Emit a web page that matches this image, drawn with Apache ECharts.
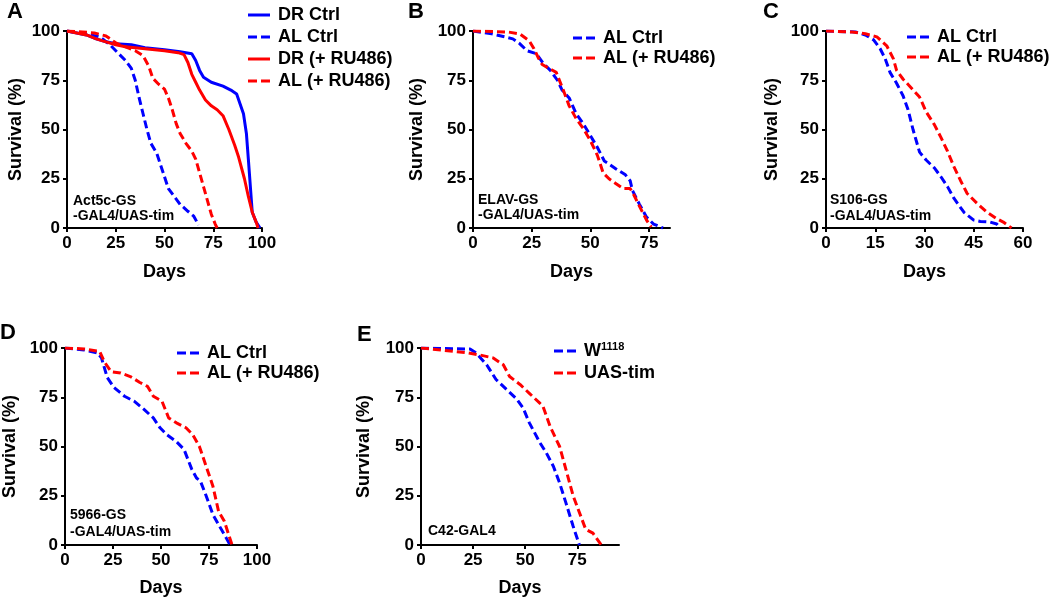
<!DOCTYPE html>
<html>
<head>
<meta charset="utf-8">
<script src="https://cdn.jsdelivr.net/npm/echarts@6/dist/echarts.min.js"></script>
<style>
  html, body { margin: 0; padding: 0; background: #fff; }
  #chart { width: 1050px; height: 599px; }
</style>
</head>
<body>
<div id="chart"></div>
<script>
// survival curves, [day, survival %]
var aDrCtrl = [[0,100],[5,99],[10,98],[15,96],[20,94.5],[25,93.5],[33,93],[40,91.5],[50,90.5],[58,89.5],[64,88.5],[66,85],[68,80],[70,76.5],[74,74],[80,72],[84,70],[87,68],[90.5,58],[92,48],[93,35],[95,8],[97,3],[99,0]];
var aAlCtrl = [[0,100],[10,98.5],[17,97],[22,93],[26,89],[30,85],[33,81],[35,75],[37,66],[39,58],[41,50],[43,43],[46,38],[48,32],[50,26],[52,20],[55,16],[58,12],[62,8.5],[65,6],[67.5,1.5]];
var aDrRu = [[0,100],[10,98],[15,96],[20,94.5],[25,93],[30,92],[40,91],[50,90],[57,89],[60,88],[62,84],[64,78],[66,74],[68,70],[71,65],[74,62],[77,60],[80,57],[83,50],[86,42],[88,36],[91,25],[93,16],[95,8],[97,3],[98,0]];
var aAlRu = [[0,100],[8,99.5],[14,99],[20,97.5],[25,94],[30,92],[35,90],[39,87.5],[42,82],[44,76],[47,73],[50,70.5],[52,66],[54,60],[56,53],[58,48],[61,43],[64,39],[66,35],[68,28],[70,21],[72,14],[74,7],[76,2],[77,0]];

var bAlCtrl = [[0,100],[8,98.6],[17,96],[20,93.5],[23,90],[27,88.5],[30,83.5],[33,80],[36,75],[38,70],[41,66],[44,58],[47,53],[50,47],[53,41],[56,34],[58,32.5],[61,30],[65,27],[67,24],[68,19],[71,12],[74,5.5],[77,2],[80,0.5],[81,0]];
var bAlRu = [[0,100],[15,99.5],[20,98.5],[24,95],[26,91],[28,86],[29.5,83],[32.5,81],[35.5,79],[38.5,70],[41,62],[44,55.5],[47,50.5],[50,44.5],[53,37],[55.5,28],[58,25],[61,22.5],[64,20],[67,20],[68.5,17],[71,11],[74,4],[76,0.5]];

var cAlCtrl = [[0,100],[9,99.5],[12,98],[14.5,95.5],[16.5,91],[18,86],[19.5,79],[21.5,73.5],[23.5,67],[25,60],[26.5,50],[28.5,38.5],[30.5,34.5],[33,30.5],[35,26],[37,21],[39,15],[42,8],[45,4],[47,3.3],[50,3],[52,2],[53,0]];
var cAlRu = [[0,100],[8,99.5],[12,98.6],[15.5,97],[18.5,92.5],[20.5,86],[21.5,80],[23.5,75.5],[25.5,72],[28.5,66.5],[30.5,59],[33,52.5],[35,46],[37,39],[39,31],[41,24],[43,17.5],[46,12.5],[49,8],[52,4.7],[54,3],[56.5,0]];

var dAlCtrl = [[0,100],[10,99],[17,97.5],[19,95],[22,85],[25.5,80],[31,75.5],[36,73],[41,69],[46,64.5],[49.5,59.5],[53,56],[58,52.5],[62,48.5],[66,38.5],[68.5,34],[70.5,32.5],[73.5,25],[77,15.5],[80.5,9.5],[84,3.5],[86,0]];
var dAlRu = [[0,100],[10,99.5],[18,98.3],[20.5,93],[24,88],[29,87.3],[34,85.5],[39,82.5],[43,80.5],[46,75.5],[50.5,73],[54,64.5],[58,62],[63,59.5],[66.5,56],[70,50],[73.5,40],[77,30],[80,17],[83,12],[85,6],[87,0]];

var eW1118 = [[0,100],[23.5,99.5],[26.5,97.5],[31.5,91.5],[36,84],[41,79],[46,74],[49,69.5],[52,62],[57,52],[60,47],[63.5,40],[66.5,31.5],[69.5,21.5],[73,9.5],[76,0]];
var eUasTim = [[0,100],[22.5,97.5],[28,96.5],[34.5,95],[39.5,91.5],[42.5,85.5],[47.5,81.5],[52,77],[57,72],[58.5,70.5],[62,60],[66.5,50],[69.5,38.5],[73,25],[76,16.5],[79,8],[82.5,6],[86.5,0]];

var yTicks = [0, 25, 50, 75, 100];
var xTicks100 = [0, 25, 50, 75, 100];
var xTicks75 = [0, 25, 50, 75];
var xTicks60 = [0, 15, 30, 45, 60];

var FONT = '"Liberation Sans", Arial, sans-serif';
var BLUE = '#0000ff';
var RED = '#ff0000';
// legend glyphs: a solid bar and two dashes
var SOLID = 'path://M0,0h22v3h-22z';
var DASH = 'path://M0,0h9v3h-9z M13,0h9v3h-9z';

var chart = echarts.init(document.getElementById('chart'));

function xAxis(idx, max, ticks, gap) {
  return {
    gridIndex: idx, type: 'value', min: 0, max: max,
    name: 'Days', nameLocation: 'middle', nameGap: gap,
    nameTextStyle: { fontSize: 18, fontWeight: 'bold', fontFamily: FONT, color: '#000' },
    axisLine: { show: true, lineStyle: { color: '#000', width: 2 } },
    axisTick: { show: true, length: 4, customValues: ticks, lineStyle: { color: '#000', width: 2 } },
    axisLabel: { customValues: ticks, margin: 7, fontSize: 17, fontWeight: 'bold', fontFamily: FONT, color: '#000' },
    splitLine: { show: false }
  };
}
function yAxis(idx, gap) {
  return {
    gridIndex: idx, type: 'value', min: 0, max: 100,
    name: 'Survival (%)', nameLocation: 'middle', nameGap: gap,
    nameTextStyle: { fontSize: 18, fontWeight: 'bold', fontFamily: FONT, color: '#000' },
    axisLine: { show: true, lineStyle: { color: '#000', width: 2 } },
    axisTick: { show: true, length: 4, customValues: yTicks, lineStyle: { color: '#000', width: 2 } },
    axisLabel: { customValues: yTicks, margin: 7, fontSize: 17, fontWeight: 'bold', fontFamily: FONT, color: '#000' },
    splitLine: { show: false }
  };
}
function line(name, idx, data, color, dashed) {
  return {
    name: name, type: 'line', xAxisIndex: idx, yAxisIndex: idx,
    data: data, symbol: 'none', showSymbol: false, animation: false,
    lineStyle: { color: color, width: 3, type: dashed ? [8, 4] : 'solid' },
    itemStyle: { color: color }
  };
}
function legend(left, top, items, gap) {
  return {
    orient: 'vertical', left: left, top: top, itemWidth: 22, itemHeight: 14, itemGap: gap,
    selectedMode: false,
    data: items.map(function (it) { return { name: it[0], icon: it[1] ? DASH : SOLID }; }),
    itemStyle: { borderWidth: 0 },
    textStyle: {
      fontSize: 18, fontWeight: 'bold', fontFamily: FONT, color: '#000', lineHeight: 20,
      padding: [0, 0, 0, 3],
      rich: {
        b: { fontSize: 18, fontWeight: 'bold', fontFamily: FONT, color: '#000' },
        s: { fontSize: 11, fontWeight: 'bold', fontFamily: FONT, color: '#000', verticalAlign: 'top', padding: [0, 0, 8, 0] }
      }
    },
    formatter: function (n) { return n === 'W1118' ? '{b|W}{s|1118}' : n; }
  };
}
function label(x, y, text, size, lh) {
  return {
    type: 'text', x: x, y: y,
    style: { text: text, font: 'bold ' + size + 'px ' + FONT, fill: '#000', lineHeight: lh, verticalAlign: 'top', textVerticalAlign: 'top' }
  };
}

var option = {
  backgroundColor: '#fff',
  animation: false,
  grid: [
    { left: 67, top: 31, width: 195, height: 197 },
    { left: 473, top: 31, width: 197, height: 197 },
    { left: 826, top: 31, width: 197, height: 197 },
    { left: 63, top: 348, width: 194, height: 197 },
    { left: 421, top: 348, width: 198, height: 197 }
  ],
  xAxis: [
    xAxis(0, 100, xTicks100, 35),
    xAxis(1, 84, xTicks75, 35),
    xAxis(2, 60, xTicks60, 35),
    xAxis(3, 100, xTicks100, 34),
    xAxis(4, 95, xTicks75, 34)
  ],
  yAxis: [yAxis(0, 42), yAxis(1, 47), yAxis(2, 45), yAxis(3, 46), yAxis(4, 48)],
  legend: [
    legend(243, 0, [['DR Ctrl', false], ['AL Ctrl', true], ['DR (+ RU486)', false], ['AL (+ RU486)', true]], 2),
    legend(568, 23, [['AL Ctrl', true], ['AL (+ RU486)', true]], 0),
    legend(902, 22, [['AL Ctrl', true], ['AL (+ RU486)', true]], 0),
    legend(172, 338, [['AL Ctrl', true], ['AL (+ RU486)', true]], 0),
    legend(549, 336, [['W1118', true], ['UAS-tim', true]], 2)
  ],
  series: [
    line('DR Ctrl', 0, aDrCtrl, BLUE, false),
    line('AL Ctrl', 0, aAlCtrl, BLUE, true),
    line('DR (+ RU486)', 0, aDrRu, RED, false),
    line('AL (+ RU486)', 0, aAlRu, RED, true),
    line('AL Ctrl', 1, bAlCtrl, BLUE, true),
    line('AL (+ RU486)', 1, bAlRu, RED, true),
    line('AL Ctrl', 2, cAlCtrl, BLUE, true),
    line('AL (+ RU486)', 2, cAlRu, RED, true),
    line('AL Ctrl', 3, dAlCtrl, BLUE, true),
    line('AL (+ RU486)', 3, dAlRu, RED, true),
    line('W1118', 4, eW1118, BLUE, true),
    line('UAS-tim', 4, eUasTim, RED, true)
  ],
  graphic: [
    label(7, 1, 'A', 22, 22),
    label(408, 1, 'B', 22, 22),
    label(763, 1, 'C', 22, 22),
    label(0, 322, 'D', 22, 22),
    label(357, 324, 'E', 22, 22),
    label(73, 194, 'Act5c-GS\n-GAL4/UAS-tim', 14, 15),
    label(478, 193, 'ELAV-GS\n-GAL4/UAS-tim', 14, 15),
    label(830, 192, 'S106-GS\n-GAL4/UAS-tim', 14, 16),
    label(70, 507, '5966-GS\n-GAL4/UAS-tim', 14, 17),
    label(428, 524, 'C42-GAL4', 14, 15)
  ]
};
chart.setOption(option);
</script>
</body>
</html>
